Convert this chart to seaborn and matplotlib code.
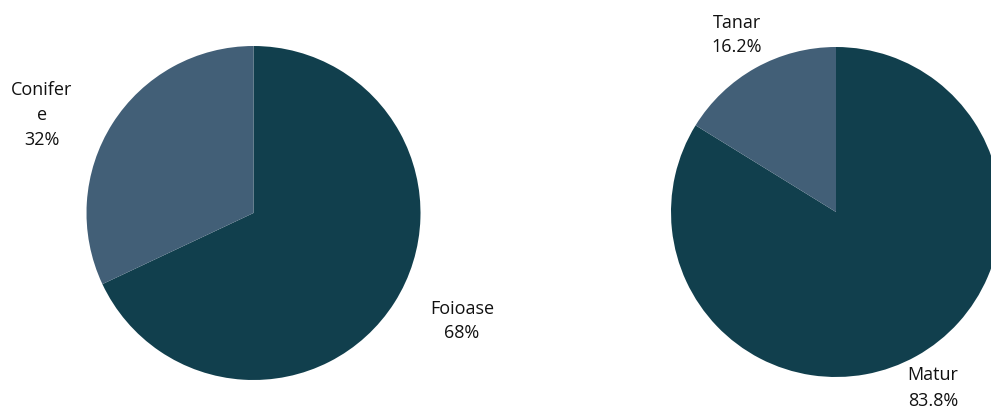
import matplotlib
matplotlib.use("Agg")
import matplotlib.pyplot as plt
import seaborn as sns

sns.set_theme(style="white")
plt.rcParams["font.family"] = ["Open Sans", "DejaVu Sans"]

# Tree type composition
tip_labels = ["Foioase", "Conifer\ne"]
tip_values = [68, 32]

# Stand age structure
varsta_labels = ["Matur", "Tanar"]
varsta_values = [83.8, 16.2]

dark = "#113F4D"
light = "#425F77"

W, H = 991, 408
fig = plt.figure(figsize=(W / 100, H / 100), dpi=100)
ax = fig.add_axes([0, 0, 1, 1])

ax.pie(tip_values, colors=[dark, light], startangle=90, counterclock=False,
       center=(253.5, H - 213), radius=167, frame=True,
       wedgeprops=dict(linewidth=0))
ax.pie(varsta_values, colors=[dark, light], startangle=90, counterclock=False,
       center=(836, H - 212), radius=165, frame=True,
       wedgeprops=dict(linewidth=0))
ax.set_xlim(0, W)
ax.set_ylim(0, H)
ax.set_aspect("equal")
ax.axis("off")

def fmt(v):
    return f"{v:g}%"

lab_kw = dict(ha="center", va="center", fontsize=13, color="#111111",
              linespacing=1.5, fontweight="medium")
ax.text(462, H - 321, f"{tip_labels[0]}\n{fmt(tip_values[0])}", **lab_kw)
ax.text(42, H - 115, f"{tip_labels[1]}\n{fmt(tip_values[1])}", **lab_kw)
ax.text(933, H - 388, f"{varsta_labels[0]}\n{fmt(varsta_values[0])}", **lab_kw)
ax.text(737, H - 35, f"{varsta_labels[1]}\n{fmt(varsta_values[1])}", **lab_kw)

fig.savefig("out.png", dpi=100)
